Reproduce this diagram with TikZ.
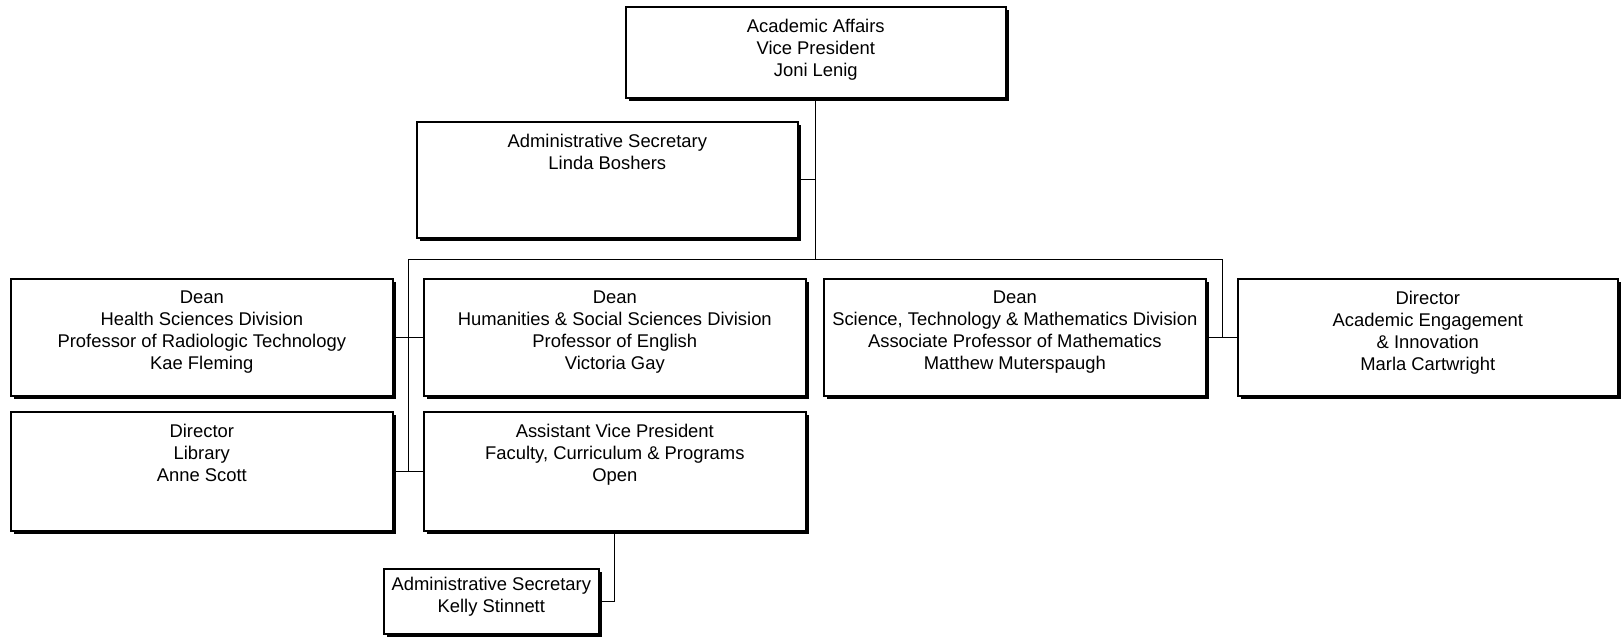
\documentclass[tikz,border=0pt]{standalone}
\usepackage{fontspec}
\setmainfont{Liberation Sans}
\usepackage{tikz}
\usetikzlibrary{shadows}

\begin{document}
\begin{tikzpicture}[
  x=0.5pt, y=-0.5pt,
  orgbox/.style={draw,fill=white,line width=0.8pt,anchor=north west,inner sep=0pt,
    drop shadow={shadow xshift=1.4pt,shadow yshift=-1.4pt,fill=black,opacity=1}},
  orgtxt/.style={anchor=north,yshift=-6.4pt,align=center,inner sep=0pt,
    font=\fontsize{9.2}{11}\selectfont},
  conn/.style={line width=0.5pt}
]
\useasboundingbox (0,0) rectangle (1623,637);
% boxes
\node[orgbox,minimum width=190pt,minimum height=45.5pt,
  label={[orgtxt]north:{Academic Affairs\\Vice President\\Joni Lenig}}] (vp) at (625,6) {};
\node[orgbox,minimum width=190.5pt,minimum height=58pt,
  label={[orgtxt]north:{Administrative Secretary\\Linda Boshers}}] (asec) at (416,121) {};
\node[orgbox,minimum width=191pt,minimum height=58.5pt,
  label={[orgtxt]north:{Dean\\Health Sciences Division\\Professor of Radiologic Technology\\Kae Fleming}}] (hsd) at (10,278) {};
\node[orgbox,minimum width=191pt,minimum height=58.5pt,
  label={[orgtxt]north:{Dean\\Humanities \& Social Sciences Division\\Professor of English\\Victoria Gay}}] (hss) at (423,278) {};
\node[orgbox,minimum width=191pt,minimum height=58.5pt,
  label={[orgtxt]north:{Dean\\Science, Technology \& Mathematics Division\\Associate Professor of Mathematics\\Matthew Muterspaugh}}] (stm) at (823,278) {};
\node[orgbox,minimum width=190pt,minimum height=58.5pt,
  label={[orgtxt]north:{Director\\Academic Engagement\\\& Innovation\\Marla Cartwright}}] (aei) at (1237,278) {};
\node[orgbox,minimum width=191pt,minimum height=59.5pt,
  label={[orgtxt]north:{Director\\Library\\Anne Scott}}] (lib) at (10,411) {};
\node[orgbox,minimum width=191pt,minimum height=59.5pt,
  label={[orgtxt]north:{Assistant Vice President\\Faculty, Curriculum \& Programs\\Open}}] (avp) at (423,411) {};
\node[orgbox,minimum width=107.5pt,minimum height=32.5pt,
  label={[orgtxt,yshift=2pt]north:{Administrative Secretary\\Kelly Stinnett}}] (ksec) at (383,568) {};
% junctions
\coordinate (jl) at (408,259);
\coordinate (jr) at (1222,259);
\coordinate (jk) at (614,530);
% lines
\draw[conn] (vp.south) -- (vp.south |- jl);
\draw[conn] (asec.east) -- (asec.east -| vp.south);
\draw[conn] (jl) -- (jr);
\draw[conn] (jl) -- (jl |- lib.east);
\draw[conn] (hsd.east) -- (hss.west);
\draw[conn] (lib.east) -- (avp.west);
\draw[conn] (jr) -- (jr |- stm.east);
\draw[conn] (stm.east) -- (aei.west);
\draw[conn] (jk) |- (ksec.east);
\end{tikzpicture}
\end{document}
